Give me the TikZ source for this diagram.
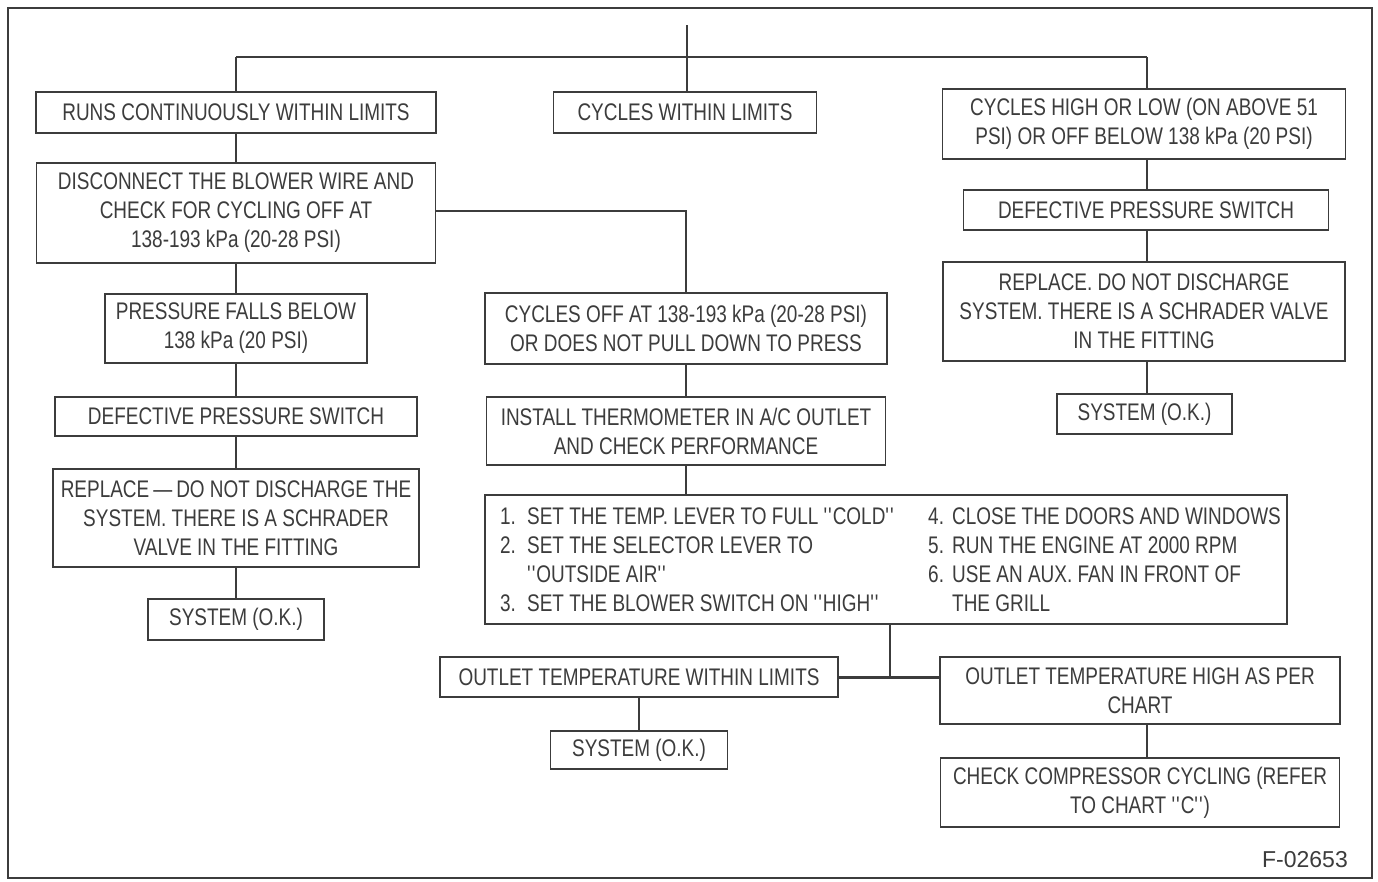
\documentclass[tikz,border=0pt]{standalone}
\usepackage{fontspec}
\setmainfont{Liberation Sans}[FakeStretch=0.79]
\newfontfamily\figfont{Liberation Sans}
\definecolor{ink}{HTML}{3C3C3C}
\newcommand{\qq}{\textquotesingle\textquotesingle}
\newcommand{\num}[1]{\makebox[27pt][l]{#1}}
\newcommand{\numb}[1]{\makebox[24pt][l]{#1}}
\begin{document}
\begin{tikzpicture}[x=1pt,y=-1pt,
  box/.style={draw=ink, line width=1.3pt, text=ink, font=\fontsize{24}{29}\selectfont,
    align=center, inner sep=0pt, outer sep=0pt},
  conn/.style={draw=ink, line width=1.3pt},
  listtext/.style={text=ink, font=\fontsize{24}{29}\selectfont, align=left, inner sep=0pt, anchor=west}]
\useasboundingbox (0,0) rectangle (1378,881);
\fill[white] (0,0) rectangle (1378,881);
\draw[conn] (8,8) rectangle (1372,878);

% hub
\coordinate (top) at (687,25);
\coordinate (hub) at (687,57);
\coordinate (hl) at (236,57);
\coordinate (hr) at (1147,57);

% left column
\node[box, minimum width=400pt, minimum height=41pt] (runs) at (236,112.5) {RUNS CONTINUOUSLY WITHIN LIMITS};
\node[box, minimum width=399pt, minimum height=100pt] (disc) at (236,213) {DISCONNECT THE BLOWER WIRE AND\\CHECK FOR CYCLING OFF AT\\138-193 kPa (20-28 PSI)};
\node[box, minimum width=262pt, minimum height=69pt] (press) at (236,328.5) {PRESSURE FALLS BELOW\\138 kPa (20 PSI)};
\node[box, minimum width=362pt, minimum height=39pt] (defL) at (236,416.5) {DEFECTIVE PRESSURE SWITCH};
\node[box, minimum width=366pt, minimum height=98pt] (repL) at (236,518) {REPLACE\thinspace—\thinspace DO NOT DISCHARGE THE\\SYSTEM. THERE IS A SCHRADER\\VALVE IN THE FITTING};
\node[box, minimum width=176pt, minimum height=41pt] (sysL) at (236,619.5) {SYSTEM (O.K.)};

% middle column
\node[box, minimum width=263pt, minimum height=41pt] (cyc) at (685,112.5) {CYCLES WITHIN LIMITS};
\node[box, minimum width=402pt, minimum height=71pt] (cycoff) at (686,328.5) {CYCLES OFF AT 138-193 kPa (20-28 PSI)\\OR DOES NOT PULL DOWN TO PRESS};
\node[box, minimum width=399pt, minimum height=68pt] (inst) at (686,431) {INSTALL THERMOMETER IN A/C OUTLET\\AND CHECK PERFORMANCE};
\node[box, minimum width=802pt, minimum height=129pt] (steps) at (886,559.5) {};
\node[listtext] (stepsA) at (500,559.5) {\num{1.}SET THE TEMP. LEVER TO FULL \qq COLD\qq\\
\num{2.}SET THE SELECTOR LEVER TO\\
\num{}\qq OUTSIDE AIR\qq\\
\num{3.}SET THE BLOWER SWITCH ON \qq HIGH\qq};
\node[listtext] (stepsB) at (928,559.5) {\numb{4.}CLOSE THE DOORS AND WINDOWS\\
\numb{5.}RUN THE ENGINE AT 2000 RPM\\
\numb{6.}USE AN AUX. FAN IN FRONT OF\\
\numb{}THE GRILL};
\node[box, minimum width=398pt, minimum height=40pt] (outW) at (639,677) {OUTLET TEMPERATURE WITHIN LIMITS};
\node[box, minimum width=400pt, minimum height=67pt] (outH) at (1140,690.5) {OUTLET TEMPERATURE HIGH AS PER\\CHART};
\node[box, minimum width=177pt, minimum height=38pt] (sysM) at (639,750) {SYSTEM (O.K.)};
\node[box, minimum width=399pt, minimum height=69pt] (chk) at (1140,792.5) {CHECK COMPRESSOR CYCLING (REFER\\TO CHART \qq C\qq)};

% right column
\node[box, minimum width=403pt, minimum height=70pt] (cycH) at (1144,124) {CYCLES HIGH OR LOW (ON ABOVE 51\\PSI) OR OFF BELOW 138 kPa (20 PSI)};
\node[box, minimum width=365pt, minimum height=40pt] (defR) at (1146,210) {DEFECTIVE PRESSURE SWITCH};
\node[box, minimum width=402pt, minimum height=99pt] (repR) at (1144,311.5) {REPLACE. DO NOT DISCHARGE\\SYSTEM. THERE IS A SCHRADER VALVE\\IN THE FITTING};
\node[box, minimum width=175pt, minimum height=40pt] (sysR) at (1144.5,414) {SYSTEM (O.K.)};

\node[text=ink, font=\figfont\fontsize{23}{27}\selectfont, anchor=south east, inner sep=0pt] (fig) at (1348,868) {F-02653};

% connectors
\draw[conn] (top) -- (hub);
\draw[conn] (runs.north |- hl) -- (hr);
\draw[conn] (runs.north |- hl) -- (runs.north);
\draw[conn] (hub) -- (hub |- cyc.north);
\draw[conn] (hr) -- (hr |- cycH.north);
\draw[conn] (runs.south) -- (disc.north);
\draw[conn] (disc.south) -- (press.north);
\draw[conn] (press.south) -- (defL.north);
\draw[conn] (defL.south) -- (repL.north);
\draw[conn] (repL.south) -- (sysL.north);
\draw[conn] (disc.east |- 0,211) -- (cycoff.north |- 0,211) -- (cycoff.north);
\draw[conn] (cycoff.south) -- (inst.north);
\draw[conn] (inst.south) -- (inst.south |- steps.north);
\coordinate (j) at (890,677);
\draw[conn] (j |- steps.south) -- (j);
\draw[draw=ink, line width=3pt] (outW.east) -- (outW.east -| outH.west);
\draw[conn] (outW.south) -- (sysM.north);
\coordinate (k) at (1147,0);
\draw[conn] (k |- outH.south) -- (k |- chk.north);
\draw[conn] (hr |- cycH.south) -- (hr |- defR.north);
\draw[conn] (hr |- defR.south) -- (hr |- repR.north);
\draw[conn] (hr |- repR.south) -- (hr |- sysR.north);
\end{tikzpicture}
\end{document}
